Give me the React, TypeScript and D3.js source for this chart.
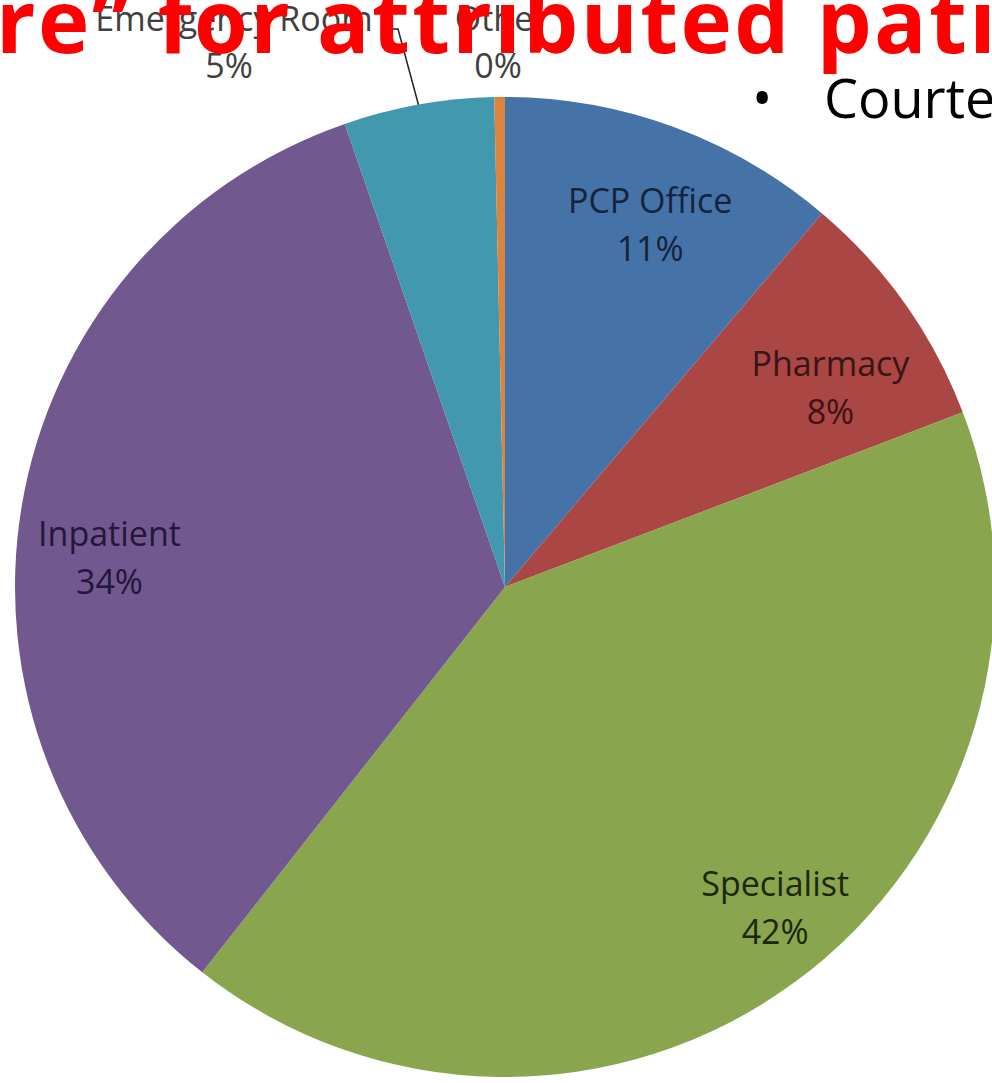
import React from "react";
import * as d3 from "d3";

const categories = ["PCP Office", "Pharmacy", "Specialist", "Inpatient", "Emergency Room", "Other"];
const values = [11.2, 8.0, 41.4, 34.1, 4.95, 0.35];
const percentLabels = ["11%", "8%", "42%", "34%", "5%", "0%"];
const colors = ["#4572A7", "#AA4643", "#89A54E", "#71588F", "#4198AF", "#DB843D"];
const textColors = ["#14243f", "#3b1414", "#1c280c", "#24173a", "#404040", "#404040"];

const titleText = "re\u201D for attributed patients";
const bulletText = "Courtesy";

const W = 992;
const H = 1083;
const CX = 505;
const CY = 587;
const R = 490;

// label nudges relative to the slice centroid at radius LR (inside labels)
const LR = 395;
const labelNudges: [number, number][] = [
  [9, 9],
  [3, 29],
  [36, 3],
  [-6, 36],
];

export default function App() {
  const pie = d3.pie<number>().sort(null).value((d) => d).startAngle(0).endAngle(2 * Math.PI);
  const arcs = pie(values);
  const arc = d3.arc<d3.PieArcDatum<number>>().innerRadius(0).outerRadius(R);
  const labelArc = d3.arc<d3.PieArcDatum<number>>().innerRadius(LR).outerRadius(LR);
  const edgeArc = d3.arc<d3.PieArcDatum<number>>().innerRadius(R).outerRadius(R);

  const font = "'Open Sans', 'Noto Sans', sans-serif";
  const fs = 34;

  const erEdge = edgeArc.centroid(arcs[4]);

  return (
    <svg
      width={W}
      height={H}
      style={{ position: "absolute", left: 0, top: 0, background: "#fff" }}
    >
      <rect width={W} height={H} fill="#fff" />
      <g transform={`translate(${CX},${CY})`}>
        {arcs.map((a, i) => (
          <path key={i} d={arc(a) || ""} fill={colors[i]} />
        ))}
      </g>
      {arcs.slice(0, 4).map((a, i) => {
        const [x, y] = labelArc.centroid(a);
        const mx = CX + x + labelNudges[i][0];
        const my = CY + y + labelNudges[i][1];
        return (
          <g key={i} fontFamily={font} fontSize={fs} fill={textColors[i]} textAnchor="middle">
            <text x={mx} y={my - 12}>{categories[i]}</text>
            <text x={mx} y={my + 36}>{percentLabels[i]}</text>
          </g>
        );
      })}
      {/* outside labels */}
      <g fontFamily={font} fontSize={fs} fill={textColors[4]} textAnchor="middle">
        <text x={234} y={31}>{categories[4]}</text>
        <text x={229} y={78}>{percentLabels[4]}</text>
        <text x={501} y={31}>{categories[5]}</text>
        <text x={498} y={78}>{percentLabels[5]}</text>
      </g>
      <path
        d={`M387,29 L398,29 L${CX + erEdge[0]},${CY + erEdge[1]}`}
        fill="none"
        stroke="#222"
        strokeWidth={1.5}
      />
      {/* overlaid slide text */}
      <text
        x={-4}
        y={53}
        fontFamily={font}
        fontWeight={700}
        fontSize={87}
        letterSpacing={2.4}
        fill="#FF0000"
      >
        {titleText}
      </text>
      <text x={752} y={118} fontFamily={font} fontSize={54} fill="#000">
        {"\u2022"}
      </text>
      <text x={824} y={118} fontFamily={font} fontSize={54} fill="#000">
        {bulletText}
      </text>
    </svg>
  );
}
